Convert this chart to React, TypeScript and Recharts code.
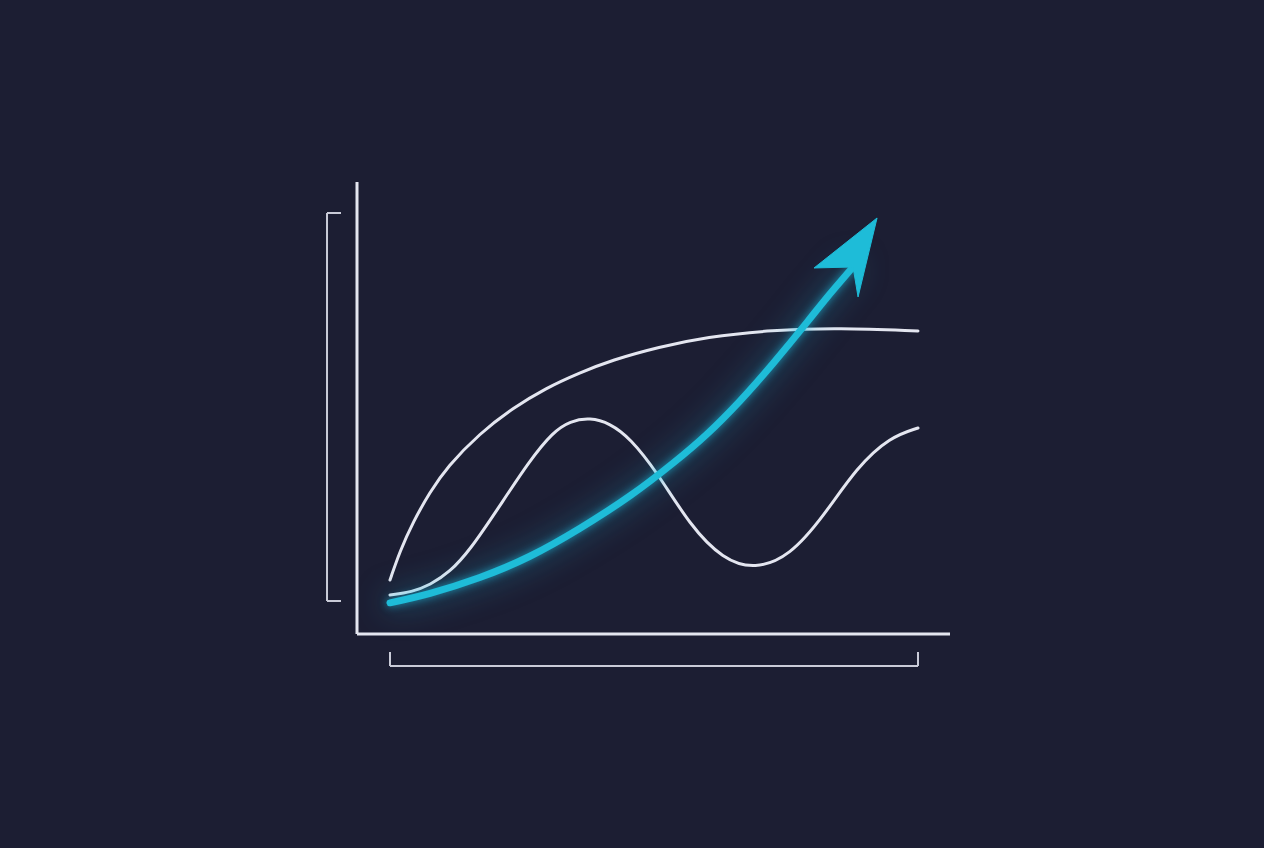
import { LineChart, Line, XAxis, YAxis, ReferenceLine } from "recharts";

const BG = "#1c1e33";
const INK = "#e4e6f0";
const CYAN = "#1ebcd8";

// saturating curve
const plateauX = [0, 1.89, 4.36, 7.58, 10.8, 17.05, 23.3, 29.55, 35.8, 42.05, 50.95, 59.85, 72.35, 85.04, 100];
const plateauY = [11.95, 18.36, 24.78, 31.42, 36.95, 44.47, 50.0, 54.42, 57.74, 60.62, 63.5, 65.71, 67.26, 67.7, 67.04];

// oscillating curve
const waveX = [0, 4.17, 7.58, 11.36, 15.15, 20.27, 26.52, 30.87, 34.09, 37.88, 41.67, 45.45, 50.57, 56.82, 63.07, 69.13, 75.76, 82.01, 88.45, 94.7, 100];
const waveY = [8.63, 9.29, 10.84, 13.72, 18.58, 27.43, 38.5, 44.69, 47.1, 47.9, 46.6, 43.36, 35.84, 24.0, 16.5, 14.3, 17.3, 25.88, 36.95, 43.58, 45.58];

// exponential growth curve (ends under the arrowhead)
const growthX = [0, 7.6, 17.0, 26.5, 36.0, 45.5, 53.6, 60.0, 66.3, 72.5, 79.0, 82.8, 87.7];
const growthY = [6.9, 9.0, 12.5, 17.2, 23.4, 30.6, 37.8, 44.2, 51.6, 59.8, 69.0, 74.5, 81.2];

const plateau = plateauX.map((x, i) => ({ x, y: plateauY[i] }));
const wave = waveX.map((x, i) => ({ x, y: waveY[i] }));
const growth = growthX.map((x, i) => ({ x, y: growthY[i] }));

// bracket extents (data units)
const LEFT_BRACKET_X = -11.93;
const LEFT_TICK_X = -9.28;
const LEFT_TOP = 93.14;
const LEFT_BOTTOM = 7.3;
const BOTTOM_BRACKET_Y = -7.08;
const BOTTOM_TICK_Y = -3.98;

const BRACKET = "#c9cbd8";

function ArrowDot(props: any) {
  const { cx, cy, index } = props;
  if (index !== growth.length - 1) return <g key={`d${index}`} />;
  const pts = [
    [cx + 24, cy - 49],
    [cx - 39, cy + 1],
    [cx, cy],
    [cx + 5, cy + 30],
  ]
    .map((p) => p.join(","))
    .join(" ");
  return <polygon key="arrow" points={pts} fill={CYAN} stroke={CYAN} strokeWidth={1} strokeLinejoin="round" />;
}

export default function App() {
  return (
    <div style={{ position: "fixed", left: 0, top: 0, width: 1264, height: 848, background: BG }}>
      <style>{`.glow { filter: drop-shadow(0 0 4px rgba(30,190,225,0.7)) drop-shadow(0 0 15px rgba(30,190,225,0.5)); }`}</style>
      <LineChart width={1264} height={848} data={growth} margin={{ top: 182, right: 314, bottom: 204, left: 347 }}>
        <XAxis
          type="number"
          dataKey="x"
          domain={[-6.25, 106.06]}
          allowDataOverflow
          height={10}
          tick={false}
          tickLine={false}
          axisLine={{ stroke: INK, strokeWidth: 3 }}
        />
        <YAxis
          type="number"
          dataKey="y"
          domain={[0, 100]}
          allowDataOverflow
          width={10}
          tick={false}
          tickLine={false}
          axisLine={{ stroke: INK, strokeWidth: 3 }}
        />
        <ReferenceLine segment={[{ x: LEFT_TICK_X, y: LEFT_TOP }, { x: LEFT_BRACKET_X, y: LEFT_TOP }]} stroke={BRACKET} strokeWidth={2} ifOverflow="visible" />
        <ReferenceLine segment={[{ x: LEFT_BRACKET_X, y: LEFT_TOP }, { x: LEFT_BRACKET_X, y: LEFT_BOTTOM }]} stroke={BRACKET} strokeWidth={2} ifOverflow="visible" />
        <ReferenceLine segment={[{ x: LEFT_BRACKET_X, y: LEFT_BOTTOM }, { x: LEFT_TICK_X, y: LEFT_BOTTOM }]} stroke={BRACKET} strokeWidth={2} ifOverflow="visible" />
        <ReferenceLine segment={[{ x: 0, y: BOTTOM_TICK_Y }, { x: 0, y: BOTTOM_BRACKET_Y }]} stroke={BRACKET} strokeWidth={2} ifOverflow="visible" />
        <ReferenceLine segment={[{ x: 0, y: BOTTOM_BRACKET_Y }, { x: 100, y: BOTTOM_BRACKET_Y }]} stroke={BRACKET} strokeWidth={2} ifOverflow="visible" />
        <ReferenceLine segment={[{ x: 100, y: BOTTOM_BRACKET_Y }, { x: 100, y: BOTTOM_TICK_Y }]} stroke={BRACKET} strokeWidth={2} ifOverflow="visible" />
        <Line data={plateau} dataKey="y" type="basis" stroke={INK} strokeWidth={3} strokeLinecap="round" dot={false} isAnimationActive={false} />
        <Line data={wave} dataKey="y" type="basis" stroke={INK} strokeWidth={3} strokeLinecap="round" dot={false} isAnimationActive={false} />
        <Line
          data={growth}
          dataKey="y"
          type="natural"
          className="glow"
          stroke={CYAN}
          strokeWidth={7}
          strokeLinecap="round"
          dot={ArrowDot}
          activeDot={false}
          isAnimationActive={false}
        />
      </LineChart>
    </div>
  );
}
